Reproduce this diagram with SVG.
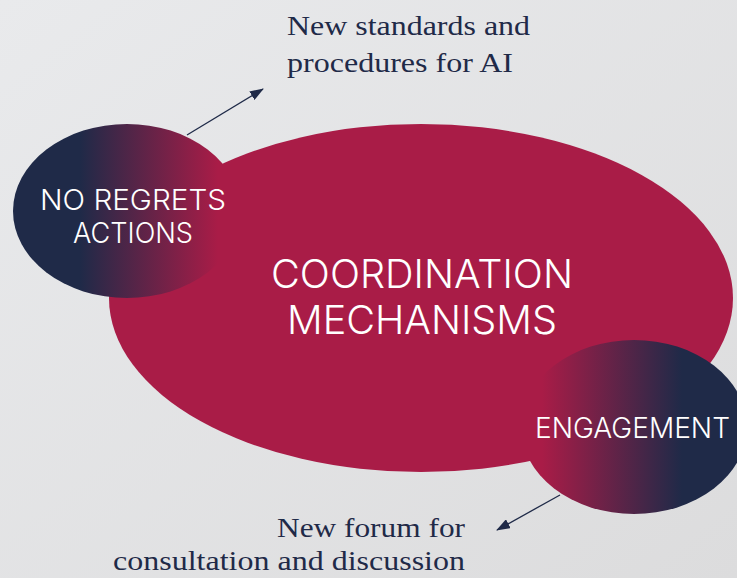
<svg xmlns="http://www.w3.org/2000/svg" width="737" height="578" viewBox="0 0 737 578">
<defs>
<linearGradient id="bg" x1="0" y1="0" x2="1" y2="1">
<stop offset="0" stop-color="#e9eaec"/>
<stop offset="1" stop-color="#dcdcdd"/>
</linearGradient>
<linearGradient id="gl" gradientUnits="userSpaceOnUse" x1="80" y1="0" x2="218" y2="0">
<stop offset="0" stop-color="#1f2a48"/>
<stop offset="1" stop-color="#a91c47"/>
</linearGradient>
<linearGradient id="gr" gradientUnits="userSpaceOnUse" x1="542" y1="0" x2="682" y2="0">
<stop offset="0" stop-color="#a91c47"/>
<stop offset="1" stop-color="#1f2a48"/>
</linearGradient>
<marker id="ah" viewBox="0 0 14 10" refX="13" refY="5" markerWidth="14" markerHeight="10" orient="auto" markerUnits="userSpaceOnUse">
<path d="M0,0 L14,5 L0,10 z" fill="#1f2a48"/>
</marker>
<style>
.lbl{font-family:"Inter","DejaVu Sans",sans-serif;font-weight:300;fill:#ffffff;}
.ser{font-family:"Liberation Serif",serif;font-size:28px;fill:#1f2a48;}
.conn{stroke:#1f2a48;stroke-width:1.3;fill:none;}
</style>
</defs>
<rect width="737" height="578" fill="url(#bg)"/>
<g id="coordination">
<ellipse cx="421" cy="298" rx="312" ry="174" fill="#a91c47"/>
<text class="lbl" font-size="40" x="271" y="288" textLength="302" lengthAdjust="spacingAndGlyphs">COORDINATION</text>
<text class="lbl" font-size="40" x="287" y="334" textLength="270" lengthAdjust="spacingAndGlyphs">MECHANISMS</text>
</g>
<g id="no-regrets">
<ellipse cx="127" cy="211" rx="114" ry="87" fill="url(#gl)"/>
<text class="lbl" font-size="28" x="40" y="210" textLength="186" lengthAdjust="spacingAndGlyphs">NO REGRETS</text>
<text class="lbl" font-size="28" x="73" y="243" textLength="120" lengthAdjust="spacingAndGlyphs">ACTIONS</text>
</g>
<g id="engagement">
<ellipse cx="634" cy="427" rx="113" ry="87" fill="url(#gr)"/>
<text class="lbl" font-size="28" x="535" y="438" textLength="195" lengthAdjust="spacingAndGlyphs">ENGAGEMENT</text>
</g>
<g id="standards">
<text class="ser" x="287" y="35" textLength="243" lengthAdjust="spacingAndGlyphs">New standards and</text>
<text class="ser" x="287" y="72" textLength="226" lengthAdjust="spacingAndGlyphs">procedures for AI</text>
</g>
<g id="forum">
<text class="ser" x="277" y="537" textLength="188" lengthAdjust="spacingAndGlyphs">New forum for</text>
<text class="ser" x="113" y="570" textLength="352" lengthAdjust="spacingAndGlyphs">consultation and discussion</text>
</g>
<g id="connectors">
<line class="conn" x1="187" y1="135" x2="263" y2="89" marker-end="url(#ah)"/>
<line class="conn" x1="560" y1="495" x2="497" y2="530" marker-end="url(#ah)"/>
</g>
</svg>
